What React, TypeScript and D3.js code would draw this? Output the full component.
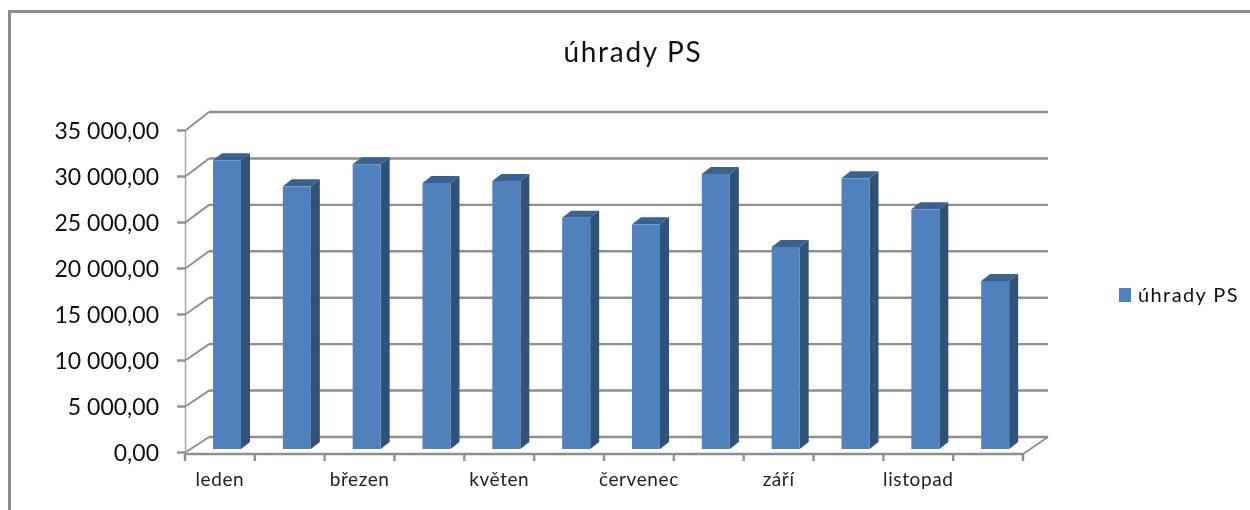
import React, { useEffect, useRef } from "react";
import * as d3 from "d3";

const months = ["leden", "únor", "březen", "duben", "květen", "červen", "červenec", "srpen", "září", "říjen", "listopad", "prosinec"];
const shownMonths = ["leden", "březen", "květen", "červenec", "září", "listopad"];
const values = [31380, 28550, 30950, 28910, 29130, 25140, 24420, 29890, 21960, 29420, 26050, 18260];
const yTicks = [0, 5000, 10000, 15000, 20000, 25000, 30000, 35000];
const seriesName = "úhrady PS";

const FONT = "Lato, 'Open Sans', sans-serif";
const GRID = "#8f8f8f";
const BAR_FRONT = "#4f81bd";
const BAR_SIDE = "#2f5279";
const BAR_TOP = "#3a6190";

const App = () => {
  const svgRef = useRef<SVGSVGElement>(null);

  useEffect(() => {
    const svg = d3.select(svgRef.current);
    svg.selectAll("*").remove();

    const depthX = 24; // offset of the back wall
    const barDepthX = 9;
    const barDepthY = 7;
    const barWidth = 28;

    const cs = d3.formatLocale({ decimal: ",", thousands: " ", grouping: [3], currency: ["", " Kč"] });

    const x = d3.scaleBand<string>().domain(months).range([185, 1023]);
    const yFront = d3.scaleLinear().domain([0, 35000]).range([452, 130]);
    const yBack = d3.scaleLinear().domain([0, 35000]).range([437, 112]);
    const yBar = d3.scaleLinear().domain([0, 35000]).range([449, 127]);

    // chart frame, only top and left edges are in the crop
    svg.append("path")
      .attr("d", "M9.5,510V11.5H1250")
      .attr("fill", "none")
      .attr("stroke", "#8c8c8c")
      .attr("stroke-width", 3);

    svg.append("text")
      .attr("x", 633)
      .attr("y", 62)
      .attr("text-anchor", "middle")
      .style("font-family", FONT)
      .style("font-size", "28px")
      .style("letter-spacing", "1.7px")
      .style("fill", "#111")
      .text(seriesName);

    // back wall gridlines and their diagonals
    const grid = svg.append("g");
    grid.selectAll("line.back")
      .data(yTicks)
      .enter()
      .append("line")
      .attr("class", "back")
      .attr("x1", 185 + depthX)
      .attr("x2", 1048)
      .attr("y1", (d) => yBack(d))
      .attr("y2", (d) => yBack(d))
      .attr("stroke", GRID)
      .attr("stroke-width", 2.4);
    grid.selectAll("line.diag")
      .data(yTicks)
      .enter()
      .append("line")
      .attr("class", "diag")
      .attr("x1", 186)
      .attr("x2", 185 + depthX)
      .attr("y1", (d) => yFront(d))
      .attr("y2", (d) => yBack(d))
      .attr("stroke", GRID)
      .attr("stroke-width", 2);

    // floor edge on the right
    grid.append("line")
      .attr("x1", 1023)
      .attr("x2", 1048)
      .attr("y1", 454)
      .attr("y2", yBack(0))
      .attr("stroke", GRID)
      .attr("stroke-width", 2);

    // y axis
    const yAxis = d3.axisLeft(yFront)
      .tickValues(yTicks)
      .tickSize(9)
      .tickPadding(18)
      .tickFormat((d) => cs.format(",.2f")(d as number));
    const yG = svg.append("g").attr("transform", "translate(186,0)").call(yAxis);
    yG.select(".domain")
      .attr("d", "M-0.5,130V454")
      .attr("stroke", "#a6a6a6")
      .attr("stroke-width", 1.5);
    yG.selectAll(".tick line").attr("stroke", GRID).attr("stroke-width", 2.4);
    yG.selectAll(".tick text")
      .style("font-family", FONT)
      .style("font-size", "23px")
      .style("fill", "#111")
      .attr("dy", "0.36em");

    // x axis, every second month gets a label
    const xAxis = d3.axisBottom(x)
      .tickSize(7)
      .tickPadding(12)
      .tickFormat((d) => (shownMonths.includes(d) ? d : ""));
    const xG = svg.append("g").attr("transform", "translate(0,454)").call(xAxis);
    xG.select(".domain")
      .attr("d", "M185,0H1023")
      .attr("stroke", GRID)
      .attr("stroke-width", 2.4);
    xG.selectAll(".tick line").remove();
    xG.selectAll(".tick text")
      .style("font-family", FONT)
      .style("font-size", "19px")
      .style("letter-spacing", "0.6px")
      .style("fill", "#222");
    const xEdges = [...months.map((m) => x(m) as number), 1023];
    xG.selectAll("line.edge")
      .data(xEdges)
      .enter()
      .append("line")
      .attr("class", "edge")
      .attr("x1", (d) => d)
      .attr("x2", (d) => d)
      .attr("y1", 0)
      .attr("y2", 7)
      .attr("stroke", GRID)
      .attr("stroke-width", 2.4);

    // 3d bars
    const bars = svg.append("g")
      .selectAll("g")
      .data(months.map((m, i) => ({ month: m, value: values[i] })))
      .enter()
      .append("g")
      .attr("transform", (d) => `translate(${(x(d.month) as number) + 28},0)`);

    bars.append("path")
      .attr("d", (d) => {
        const t = yBar(d.value);
        const b = yBar(0);
        return `M${barWidth},${t}l${barDepthX},${-barDepthY}V${b - barDepthY}l${-barDepthX},${barDepthY}Z`;
      })
      .attr("fill", BAR_SIDE);
    bars.append("path")
      .attr("d", (d) => {
        const t = yBar(d.value);
        return `M0,${t}l${barDepthX},${-barDepthY}h${barWidth}l${-barDepthX},${barDepthY}Z`;
      })
      .attr("fill", BAR_TOP);
    bars.append("rect")
      .attr("width", barWidth)
      .attr("y", (d) => yBar(d.value))
      .attr("height", (d) => yBar(0) - yBar(d.value))
      .attr("fill", BAR_FRONT);

    // legend
    const legend = svg.append("g").attr("transform", "translate(1119,288)");
    legend.append("rect").attr("width", 12).attr("height", 14).attr("fill", BAR_FRONT);
    legend.append("text")
      .attr("x", 19)
      .attr("y", 14)
      .style("font-family", FONT)
      .style("font-size", "20px")
      .style("letter-spacing", "1.4px")
      .style("fill", "#111")
      .text(seriesName);
  }, []);

  return (
    <svg
      ref={svgRef}
      width={1250}
      height={510}
      style={{ position: "absolute", left: 0, top: 0, background: "#fff", filter: "blur(0.4px)" }}
    ></svg>
  );
};

export default App;
